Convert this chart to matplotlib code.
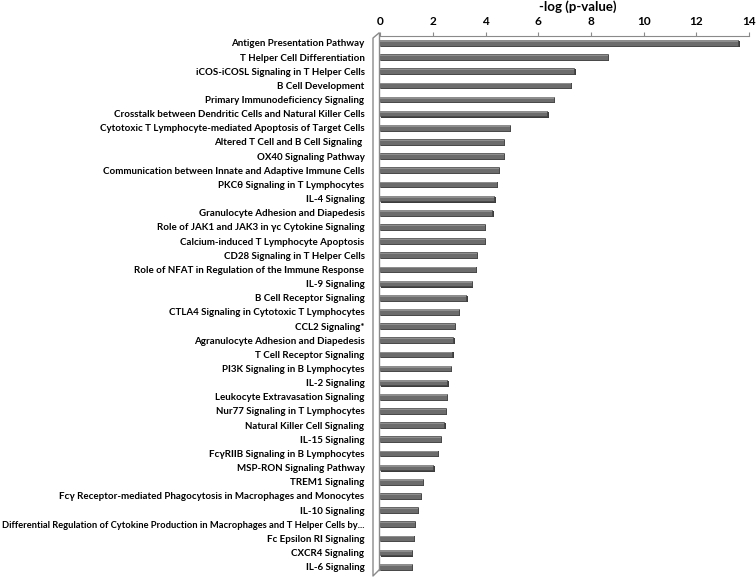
import numpy as np
import matplotlib.pyplot as plt
from matplotlib.lines import Line2D

pathways = [
    "Antigen Presentation Pathway",
    "T Helper Cell Differentiation",
    "iCOS-iCOSL Signaling in T Helper Cells",
    "B Cell Development",
    "Primary Immunodeficiency Signaling",
    "Crosstalk between Dendritic Cells and Natural Killer Cells",
    "Cytotoxic T Lymphocyte-mediated Apoptosis of Target Cells",
    "Altered T Cell and B Cell Signaling ",
    "OX40 Signaling Pathway",
    "Communication between Innate and Adaptive Immune Cells",
    "PKC\u03b8 Signaling in T Lymphocytes",
    "IL-4 Signaling",
    "Granulocyte Adhesion and Diapedesis",
    "Role of JAK1 and JAK3 in \u03b3c Cytokine Signaling",
    "Calcium-induced T Lymphocyte Apoptosis",
    "CD28 Signaling in T Helper Cells",
    "Role of NFAT in Regulation of the Immune Response",
    "IL-9 Signaling",
    "B Cell Receptor Signaling",
    "CTLA4 Signaling in Cytotoxic T Lymphocytes",
    "CCL2 Signaling*",
    "Agranulocyte Adhesion and Diapedesis",
    "T Cell Receptor Signaling",
    "PI3K Signaling in B Lymphocytes",
    "IL-2 Signaling",
    "Leukocyte Extravasation Signaling",
    "Nur77 Signaling in T Lymphocytes",
    "Natural Killer Cell Signaling",
    "IL-15 Signaling",
    "Fc\u03b3RIIB Signaling in B Lymphocytes",
    "MSP-RON Signaling Pathway",
    "TREM1 Signaling",
    "Fc\u03b3 Receptor-mediated Phagocytosis in Macrophages and Monocytes",
    "IL-10 Signaling",
    "Differential Regulation of Cytokine Production in Macrophages and T Helper Cells by...",
    "Fc Epsilon RI Signaling",
    "CXCR4 Signaling",
    "IL-6 Signaling",
]
neg_log_p = [13.6, 8.65, 7.37, 7.23, 6.59, 6.34, 4.91, 4.70, 4.70, 4.50,
             4.43, 4.33, 4.26, 3.97, 3.97, 3.66, 3.64, 3.47, 3.27, 2.99,
             2.83, 2.78, 2.74, 2.67, 2.55, 2.54, 2.50, 2.44, 2.30, 2.18,
             2.02, 1.63, 1.54, 1.43, 1.31, 1.29, 1.20, 1.19]
xticks = [0, 2, 4, 6, 8, 10, 12, 14]

plt.rcParams['font.family'] = ['Lato', 'DejaVu Sans']

W, H = 756, 578
fig = plt.figure(figsize=(W / 100, H / 100), dpi=100)
ax = fig.add_axes([377 / W, 4.2 / H, (749 - 377) / W, 538 / H])

y = np.arange(len(pathways))
# dark shadow, body and a light top edge -> looks like the excel 3d bars
ax.barh(y + 0.07, neg_log_p, height=0.42, left=0.05, color='#3c3c3c', zorder=2)
ax.barh(y, neg_log_p, height=0.40, color='#6c6c6c', edgecolor='#474747',
        linewidth=0.5, zorder=3)
ax.barh(y - 0.12, neg_log_p, height=0.1, color='#8e8e8e', linewidth=0, zorder=4)

ax.set_xlim(-0.12, 14)
ax.set_ylim(len(pathways) - 0.5, -0.5)
ax.set_yticks(y)
ax.set_yticklabels(pathways, fontsize=7.0, fontweight='bold')
ax.tick_params(axis='y', length=0, pad=9)
# the very long label is squeezed a bit so it fits the canvas
for lab in ax.get_yticklabels():
    if len(lab.get_text()) > 70:
        lab.set_fontsize(6.75)

ax.xaxis.tick_top()
ax.set_xticks(xticks)
ax.set_xticklabels([str(t) for t in xticks], fontsize=8.5, fontweight='bold')
ax.tick_params(axis='x', length=3, color='#8a8a8a', pad=3)
fig.text(578 / W, 1 - 7 / H, "-log (p-value)", fontsize=9.5, fontweight='bold',
         ha='center', va='center')

for s in ['right', 'bottom', 'left']:
    ax.spines[s].set_visible(False)
ax.spines['top'].set_color('#8a8a8a')
ax.spines['top'].set_bounds(0, 14)

# left "wall" outline
wall = dict(color='#8a8a8a', lw=1.0)
fig.add_artist(Line2D([379 / W, 379 / W], [1 - 33 / H, 1 - 570 / H], transform=fig.transFigure, **wall))
fig.add_artist(Line2D([379 / W, 373 / W, 373 / W, 379 / W],
                      [1 - 33 / H, 1 - 38 / H, 1 - 576 / H, 1 - 570 / H],
                      transform=fig.transFigure, **wall))

fig.savefig('out.png', dpi=100)
